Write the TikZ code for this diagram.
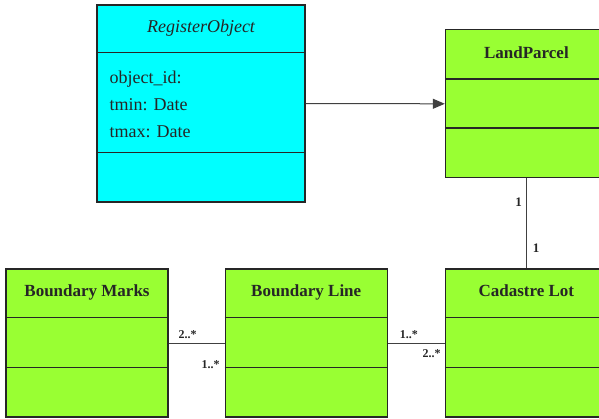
\documentclass[tikz,border=0pt]{standalone}
\usepackage{fontspec}
\setmainfont{Liberation Serif}
\usepackage{tikz}
\usetikzlibrary{arrows.meta, positioning}

\definecolor{objcyan}{RGB}{0,255,255}
\definecolor{parcelgreen}{RGB}{153,255,51}

\tikzset{
    umlclass/.style={draw=black!85, line width=1.2pt, minimum width=162pt,
        minimum height=148pt, inner sep=0pt, fill=parcelgreen},
    classname/.style={font=\fontsize{17}{20}\selectfont\bfseries, text=black!85, anchor=base},
    attrs/.style={font=\fontsize{18}{27}\selectfont, align=left, inner sep=0pt, text=black!85},
    sepline/.style={line width=1.6pt, black!85},
    assoc/.style={draw=black!75, line width=1pt},
    mult/.style={font=\fontsize{12}{12}\selectfont\bfseries, inner sep=1pt, text=black!85},
}

\begin{document}
\begin{tikzpicture}[x=1pt, y=-1pt, node distance=56pt]
    \useasboundingbox (0,0) rectangle (599,418);

    % classes
    \node[umlclass, fill=objcyan, minimum width=208pt, minimum height=197pt] (reg) at (201,103.5) {};
    \node[umlclass]                 (mark)  at (87,343)       {};
    \node[umlclass]                 (bline) [right=of mark]   {};
    \node[umlclass]                 (cad)   [right=57pt of bline] {};
    \node[umlclass]                 (land)  [above=90pt of cad] {};

    % class names
    \node[classname, font=\fontsize{18}{20}\selectfont\itshape] (regname) at ([yshift=-28pt]reg.north) {RegisterObject};
    \node[classname] (landname)  at ([yshift=-29pt]land.north)  {LandParcel};
    \node[classname] (markname)  at ([yshift=-28pt]mark.north)  {Boundary Marks};
    \node[classname] (blinename) at ([yshift=-28pt]bline.north) {Boundary Line};
    \node[classname] (cadname)   at ([yshift=-28pt]cad.north)   {Cadastre Lot};

    \node[attrs, anchor=west] (regattr) at ([xshift=13pt, yshift=-100pt]reg.north west)
        {object\_id:\\ tmin: Date\\ tmax: Date};

    % compartment lines
    \draw[sepline] ([yshift=-48pt]reg.north west) -- ([yshift=-48pt]reg.north east);
    \draw[sepline] ([yshift=-148pt]reg.north west) -- ([yshift=-148pt]reg.north east);
    \draw[sepline] ([yshift=-50pt]land.north west) -- ([yshift=-50pt]land.north east);
    \draw[sepline] ([yshift=-99pt]land.north west) -- ([yshift=-99pt]land.north east);
    \foreach \c in {mark, bline, cad}
        \foreach \d in {49, 99}
            \draw[sepline] ([yshift=-\d pt]\c.north west) -- ([yshift=-\d pt]\c.north east);

    % associations
    \draw[assoc, -{Triangle[length=12pt, width=10pt]}] (reg.east) -- (land.west);
    \draw[assoc] (land) -- node[mult, pos=0.27, left=3pt, font=\fontsize{13}{14}\selectfont\bfseries] {1}
        node[mult, pos=0.78, right=5pt, font=\fontsize{13}{14}\selectfont\bfseries] {1} (cad);
    \draw[assoc] (mark) -- node[mult, pos=0.34, above=3pt] {2..*}
        node[mult, pos=0.75, below=16pt] {1..*} (bline);
    \draw[assoc] (bline) -- node[mult, pos=0.37, above=3pt] {1..*}
        node[mult, pos=0.77, below=5pt] {2..*} (cad);
\end{tikzpicture}
\end{document}
